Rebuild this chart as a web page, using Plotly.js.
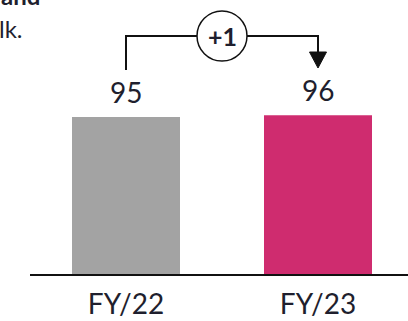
<!DOCTYPE html>
<html><head><meta charset="utf-8">
<script src="https://cdn.plot.ly/plotly-3.0.1.min.js"></script>
<style>html,body{margin:0;padding:0;background:#fff;}#chart{width:408px;height:321px;}</style>
</head><body><div id="chart"></div>
<script>
// Data
const categories = ["FY/22", "FY/23"];
const values = [95, 96];
const barColors = ["#a3a3a3", "#cf2c6f"];
const headerLines = ["and", "lk."];

const W = 408, H = 321;
const M = {l: 30, r: 0, t: 0, b: 47};
const plotW = W - M.l - M.r, plotH = H - M.t - M.b;
const pxPerX = 192;                 // pixels per category step
const xMin = -0.5, xMax = xMin + plotW / pxPerX;
const pxPerY = 157 / values[0];
const yMax = plotH / pxPerY;
const px2y = py => (H - M.b - py) / pxPerY;   // pixel row -> data y
const px2dx = p => p / pxPerX;

const idx = categories.map((c, i) => i);
const textColor = "#1f1f2e";
const font = "Lato, 'Open Sans', sans-serif";

const topY = px2y(36);
const leftBottom = px2y(70);
const arrowTip = px2y(68), arrowBase = px2y(52);
const mid = (idx[0] + idx[1]) / 2;
const rX = px2dx(25), rY = 25 / pxPerY;
const cY = px2y(36);
const diff = values[1] - values[0];

const shapes = [
  {type: "path", xref: "x", yref: "y",
   path: `M ${idx[0]} ${leftBottom} L ${idx[0]} ${topY} L ${idx[1]} ${topY} L ${idx[1]} ${arrowBase}`,
   line: {color: "#111", width: 2}},
  {type: "path", xref: "x", yref: "y",
   path: `M ${idx[1] - px2dx(8.5)} ${arrowBase} L ${idx[1] + px2dx(8.5)} ${arrowBase} L ${idx[1]} ${arrowTip} Z`,
   fillcolor: "#111", line: {color: "#111", width: 1}},
  {type: "circle", xref: "x", yref: "y",
   x0: mid - rX, x1: mid + rX, y0: cY - rY, y1: cY + rY,
   fillcolor: "#fff", line: {color: "#111", width: 1.5}}
];

const annotations = [
  ...idx.map(i => ({x: i, y: values[i], xref: "x", yref: "y", text: String(values[i]),
    showarrow: false, yanchor: "bottom", yshift: 6, font: {family: font, size: 28, color: textColor}})),
  {x: mid, y: cY, xref: "x", yref: "y", text: "<b>" + (diff >= 0 ? "+" : "") + diff + "</b>",
   showarrow: false, font: {family: font, size: 25, color: textColor}},
  {x: (42 - M.l) / plotW, y: (H - M.b - 12) / plotH, xref: "paper", yref: "paper", xanchor: "right", yanchor: "bottom",
   text: "<b>" + headerLines[0] + "</b>", showarrow: false, font: {family: font, size: 24, color: textColor}},
  {x: (25 - M.l) / plotW, y: (H - M.b - 45) / plotH, xref: "paper", yref: "paper", xanchor: "right", yanchor: "bottom",
   text: headerLines[1], showarrow: false, font: {family: font, size: 24, color: textColor}}
];

Plotly.newPlot("chart", [{
  type: "bar", x: idx, y: values, width: 108 / pxPerX,
  marker: {color: barColors}, hoverinfo: "skip"
}], {
  width: W, height: H, margin: M,
  paper_bgcolor: "#fff", plot_bgcolor: "#fff",
  showlegend: false,
  xaxis: {range: [xMin, xMax], tickvals: idx, ticktext: categories, showgrid: false, zeroline: false,
          showline: true, linecolor: "#111", linewidth: 2, ticks: "", ticklabelstandoff: 4,
          tickfont: {family: font, size: 28, color: textColor}, fixedrange: true},
  yaxis: {range: [0, yMax], visible: false, fixedrange: true},
  shapes, annotations
}, {staticPlot: true});
</script></body></html>
